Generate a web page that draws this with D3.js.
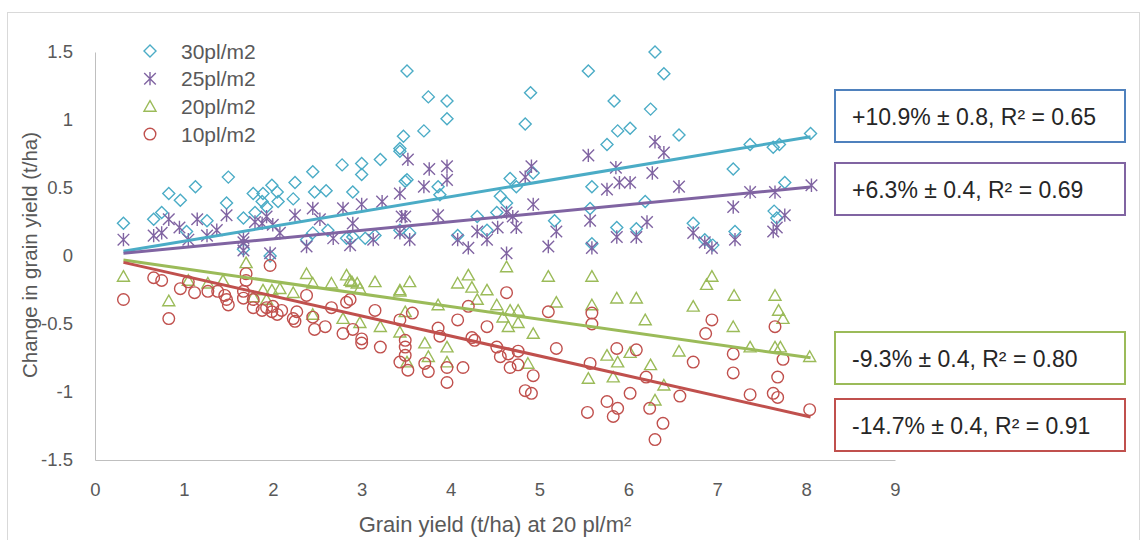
<!DOCTYPE html>
<html>
<head>
<meta charset="utf-8">
<script src="https://cdn.jsdelivr.net/npm/d3@7"></script>
<style>
  body { margin: 0; background: #fff; }
  svg { font-family: "Liberation Sans", Arial, sans-serif; }
</style>
</head>
<body>
<div id="chart-container"></div>
<script>
// Change in grain yield vs yield at 20 pl/m2, four densities

const seriesNames = ['30pl/m2', '25pl/m2', '20pl/m2', '10pl/m2'];
const seriesColors = ['#4bacc6', '#8064a2', '#9bbb59', '#c0504d'];
const boxColors = ['#4f81bd', '#8064a2', '#9bbb59', '#c0504d'];

// fitted slopes (t/ha per t/ha) and their labels
const slopes = [0.109, 0.063, -0.093, -0.147];
const fitLabels = ['+10.9% \u00b1 0.8, R\u00b2 = 0.65', '+6.3% \u00b1 0.4, R\u00b2 = 0.69',
                   '-9.3% \u00b1 0.4,  R\u00b2 = 0.80', '-14.7% \u00b1 0.4, R\u00b2 = 0.91'];
const fitRange = [0.32, 8.05];

const xTicks = [0, 1, 2, 3, 4, 5, 6, 7, 8, 9];
const yTicks = [-1.5, -1, -0.5, 0, 0.5, 1, 1.5];

// 30 pl/m2  [x, y]
const d30 = [
  [0.32,0.24],[0.66,0.27],[0.75,0.32],[0.83,0.46],[0.96,0.41],[1.13,0.51],[1.26,0.26],[1.50,0.58],
  [1.48,0.39],[1.67,0.28],[1.78,0.46],[1.89,0.46],[1.99,0.52],[2.05,0.47],[2.06,0.40],[1.88,0.40],
  [1.93,0.36],[1.80,0.32],[2.23,0.42],[2.25,0.54],[2.45,0.62],[2.47,0.47],[2.60,0.48],[2.78,0.67],
  [2.90,0.47],[3.00,0.68],[3.00,0.60],[3.21,0.71],[3.43,0.77],[3.49,0.55],[1.97,0.00],[1.67,0.05],
  [2.38,0.12],[2.45,0.17],[2.62,0.19],[2.83,0.13],[2.90,0.14],[3.04,0.13],[3.15,0.15],[3.43,0.19],
  [3.54,0.17],[1.03,0.18],[3.51,1.36],[3.75,1.17],[3.96,1.14],[3.96,1.01],[4.90,1.20],[4.84,0.97],
  [5.55,1.36],[5.84,1.14],[6.25,1.08],[6.30,1.50],[6.40,1.34],[3.47,0.88],[3.70,0.92],[3.43,0.79],
  [3.51,0.56],[3.86,0.51],[3.88,0.45],[4.67,0.57],[4.74,0.51],[4.56,0.44],[4.63,0.39],[4.93,0.61],
  [5.76,0.82],[5.88,0.92],[6.02,0.94],[6.57,0.89],[5.59,0.51],[6.19,0.40],[7.18,0.64],[7.37,0.82],
  [7.63,0.80],[7.70,0.82],[7.76,0.54],[8.05,0.90],[7.64,0.33],[7.67,0.28],[4.30,0.29],[4.08,0.15],
  [4.41,0.19],[4.52,0.32],[5.17,0.26],[5.57,0.35],[5.59,0.09],[5.87,0.21],[6.09,0.20],[6.73,0.24],
  [6.86,0.12],[6.95,0.08],[7.20,0.18]
];

// 25 pl/m2
const d25 = [
  [0.32,0.12],[0.66,0.15],[0.75,0.17],[0.83,0.27],[0.95,0.21],[1.05,0.12],[1.15,0.27],[1.26,0.15],
  [1.37,0.19],[1.48,0.30],[1.67,0.13],[1.67,0.04],[1.67,0.10],[1.80,0.25],[1.88,0.24],[1.93,0.29],
  [2.00,0.23],[1.97,0.02],[2.08,0.17],[2.25,0.30],[2.38,0.07],[2.45,0.35],[2.53,0.27],[2.68,0.13],
  [2.79,0.35],[2.87,0.08],[2.90,0.24],[3.00,0.38],[3.13,0.12],[3.23,0.40],[3.43,0.17],[3.49,0.29],
  [3.54,0.12],[3.52,0.71],[3.76,0.64],[3.96,0.66],[3.96,0.56],[3.70,0.51],[3.43,0.46],[3.45,0.29],
  [3.86,0.30],[4.08,0.12],[4.20,0.06],[4.30,0.18],[4.41,0.12],[4.53,0.21],[4.63,0.02],[4.63,0.32],
  [4.70,0.29],[4.74,0.21],[4.84,0.58],[4.91,0.66],[4.93,0.38],[5.10,0.07],[5.19,0.18],[5.55,0.74],
  [5.57,0.26],[5.59,0.06],[5.76,0.49],[5.86,0.65],[5.90,0.54],[6.02,0.54],[5.87,0.14],[6.09,0.14],
  [6.21,0.25],[6.27,0.61],[6.30,0.84],[6.40,0.76],[6.57,0.51],[6.73,0.17],[6.86,0.10],[6.94,0.06],
  [7.18,0.36],[7.20,0.12],[7.37,0.47],[7.65,0.47],[7.67,0.21],[7.76,0.30],[8.06,0.52],[7.63,0.18]
];

// 20 pl/m2
const d20 = [
  [0.32,-0.15],[0.83,-0.33],[1.70,-0.05],[1.27,-0.20],[1.44,-0.18],[1.05,-0.18],[1.89,-0.25],[1.99,-0.25],
  [2.08,-0.24],[1.78,-0.30],[1.93,-0.32],[2.38,-0.13],[2.45,-0.20],[2.66,-0.20],[2.83,-0.14],[2.87,-0.18],
  [2.95,-0.20],[2.98,-0.24],[3.15,-0.19],[2.79,-0.46],[2.98,-0.49],[3.21,-0.52],[3.43,-0.26],[3.54,-0.19],
  [3.49,-0.41],[3.43,-0.56],[3.71,-0.64],[3.75,-0.74],[3.96,-0.67],[3.96,-0.78],[3.86,-0.36],[4.08,-0.20],
  [4.20,-0.14],[4.24,-0.23],[3.51,-0.78],[4.41,-0.25],[4.63,-0.08],[4.30,-0.32],[4.52,-0.36],[4.67,-0.40],
  [4.76,-0.40],[4.59,-0.45],[4.65,-0.52],[4.76,-0.49],[4.93,-0.57],[4.87,-0.79],[5.10,-0.15],[5.19,-0.34],
  [5.59,-0.15],[5.59,-0.36],[5.76,-0.73],[5.88,-0.78],[6.02,-0.71],[5.87,-0.31],[6.09,-0.31],[6.19,-0.47],
  [5.55,-0.90],[5.83,-0.89],[6.25,-0.80],[6.40,-0.95],[6.30,-1.06],[6.57,-0.70],[6.73,-0.37],[6.88,-0.21],
  [6.94,-0.15],[7.18,-0.52],[7.19,-0.29],[7.37,-0.67],[7.65,-0.29],[7.69,-0.40],[7.74,-0.46],[7.65,-0.67],
  [7.71,-0.67],[8.04,-0.74],[2.23,-0.27],[2.45,-0.43],[2.89,-0.19],[3.43,-0.25]
];

// 10 pl/m2
const d10 = [
  [0.32,-0.32],[0.83,-0.46],[0.66,-0.16],[0.75,-0.18],[0.96,-0.24],[1.05,-0.19],[1.12,-0.27],[1.27,-0.26],
  [1.38,-0.26],[1.46,-0.29],[1.48,-0.32],[1.50,-0.36],[1.70,-0.13],[1.70,-0.18],[1.67,-0.26],[1.67,-0.31],
  [1.78,-0.32],[1.78,-0.38],[1.88,-0.40],[1.93,-0.38],[1.99,-0.41],[2.05,-0.43],[2.00,-0.37],[2.10,-0.40],
  [1.97,-0.07],[2.23,-0.46],[2.27,-0.41],[2.25,-0.48],[2.38,-0.29],[2.45,-0.45],[2.47,-0.54],[2.59,-0.52],
  [2.66,-0.38],[2.79,-0.57],[2.83,-0.34],[2.87,-0.32],[2.90,-0.54],[3.00,-0.61],[3.00,-0.64],[3.15,-0.40],
  [3.21,-0.67],[3.43,-0.47],[3.49,-0.62],[3.49,-0.67],[3.43,-0.78],[3.49,-0.73],[3.52,-0.84],[3.57,-0.42],
  [3.71,-0.79],[3.75,-0.85],[3.86,-0.53],[3.88,-0.59],[3.96,-0.82],[3.96,-0.93],[4.08,-0.47],[4.14,-0.82],
  [4.20,-0.37],[4.27,-0.62],[4.41,-0.52],[4.63,-0.27],[4.24,-0.60],[4.52,-0.67],[4.56,-0.74],[4.65,-0.72],
  [4.76,-0.70],[4.67,-0.82],[4.76,-0.80],[4.93,-0.88],[4.84,-0.99],[4.91,-1.01],[5.10,-0.41],[5.19,-0.68],
  [5.57,-0.79],[5.59,-0.42],[5.59,-0.50],[5.54,-1.15],[5.76,-1.07],[5.88,-1.12],[5.83,-1.18],[5.87,-0.68],
  [6.09,-0.69],[6.02,-1.01],[6.24,-1.12],[6.20,-0.89],[6.30,-1.35],[6.39,-1.23],[6.58,-1.03],[6.73,-0.78],
  [6.87,-0.57],[6.94,-0.47],[7.18,-0.72],[7.18,-0.86],[7.37,-1.02],[7.65,-0.52],[7.74,-0.76],[7.68,-0.89],
  [7.63,-1.01],[7.68,-1.04],[8.04,-1.13]
];

const allData = [d30, d25, d20, d10];

const width = 1147, height = 540;
const margin = {top: 52, right: 252, bottom: 80, left: 95};

const x = d3.scaleLinear().domain([0, 9]).range([margin.left, width - margin.right]);
const y = d3.scaleLinear().domain([-1.5, 1.5]).range([height - margin.bottom, margin.top]);

// marker shapes, Excel style
const markers = [
  s => `M0,${-s}L${s},0L0,${s}L${-s},0Z`,                                   // diamond
  s => `M0,${-s*1.15}V${s*1.15}M${-s},${-s}L${s},${s}M${s},${-s}L${-s},${s}`,  // star
  s => `M0,${-s*0.95}L${s},${s*0.8}L${-s},${s*0.8}Z`,                       // triangle
  s => d3.arc()({innerRadius: 0, outerRadius: s, startAngle: 0, endAngle: 2 * Math.PI})  // circle
];
const markerSize = [6, 5.8, 6, 5.8];

const svg = d3.select('#chart-container')
  .append('svg')
  .attr('width', width)
  .attr('height', height);

// chart area border
svg.append('rect')
  .attr('x', 7.5).attr('y', 12.5)
  .attr('width', 1132).attr('height', 540)
  .attr('fill', 'none')
  .attr('stroke', '#d9d9d9');

// axes, no tick marks
const xAxis = g => g
  .attr('transform', `translate(0,${y(-1.5)})`)
  .call(d3.axisBottom(x).tickValues(xTicks).tickSize(0).tickPadding(23).tickFormat(d3.format('d')))
  .call(g => g.select('.domain').attr('stroke', '#bfbfbf'))
  .call(g => g.selectAll('text').attr('fill', '#595959').attr('font-size', 18.5));

const yAxis = g => g
  .attr('transform', `translate(${x(0)},0)`)
  .call(d3.axisLeft(y).tickValues(yTicks).tickSize(0).tickPadding(22).tickFormat(d => d))
  .call(g => g.select('.domain').attr('stroke', '#bfbfbf'))
  .call(g => g.selectAll('text').attr('fill', '#595959').attr('font-size', 18.5));

svg.append('g').call(xAxis);
svg.append('g').call(yAxis);

// axis titles
svg.append('text')
  .attr('x', 495).attr('y', 532)
  .attr('text-anchor', 'middle')
  .attr('fill', '#595959')
  .attr('font-size', 22)
  .text('Grain yield (t/ha) at 20 pl/m\u00b2');

svg.append('text')
  .attr('transform', 'translate(37,255) rotate(-90)')
  .attr('text-anchor', 'middle')
  .attr('fill', '#595959')
  .attr('font-size', 20.5)
  .text('Change in grain yield (t/ha)');

// scatter points
allData.forEach((data, i) => {
  svg.append('g')
    .attr('fill', 'none')
    .attr('stroke', seriesColors[i])
    .attr('stroke-width', 1.4)
    .selectAll('path')
    .data(data)
    .join('path')
    .attr('d', markers[i](markerSize[i]))
    .attr('transform', d => `translate(${x(d[0])},${y(d[1])})`);
});

// linear trend lines through origin
slopes.forEach((b, i) => {
  svg.append('line')
    .attr('x1', x(fitRange[0])).attr('y1', y(b * fitRange[0]))
    .attr('x2', x(fitRange[1])).attr('y2', y(b * fitRange[1]))
    .attr('stroke', seriesColors[i])
    .attr('stroke-width', 3);
});

// legend
const legend = svg.append('g');
seriesNames.forEach((name, i) => {
  const ly = 51 + i * 27.7;
  legend.append('path')
    .attr('d', markers[i](markerSize[i]))
    .attr('transform', `translate(150,${ly})`)
    .attr('fill', 'none')
    .attr('stroke', seriesColors[i])
    .attr('stroke-width', 1.4);
  legend.append('text')
    .attr('x', 181).attr('y', ly + 7.5)
    .attr('fill', '#595959')
    .attr('font-size', 21)
    .text(name);
});

// fit annotation boxes
const boxTops = [90, 163, 332, 399];
slopes.forEach((b, i) => {
  const g = svg.append('g').attr('transform', `translate(835,${boxTops[i]})`);
  g.append('rect')
    .attr('width', 290).attr('height', 52)
    .attr('fill', '#fff')
    .attr('stroke', boxColors[i])
    .attr('stroke-width', 2);
  g.append('text')
    .attr('x', 17).attr('y', 34.5)
    .attr('fill', '#262626')
    .attr('font-size', 23)
    .text(fitLabels[i]);
});
</script>
</body>
</html>
